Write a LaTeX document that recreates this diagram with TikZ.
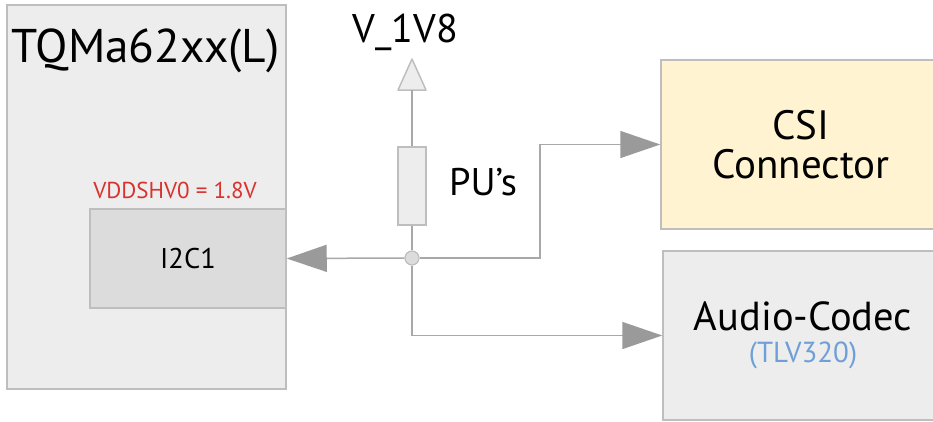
\documentclass[tikz,border=0pt]{standalone}
\usepackage{fontspec}
\setmainfont{PT Sans}
\usetikzlibrary{arrows.meta}
\definecolor{boxgray}{HTML}{EDEDED}
\definecolor{i2cgray}{HTML}{DCDCDC}
\definecolor{edgegray}{HTML}{BEBEBE}
\definecolor{linegray}{HTML}{A8A8A8}
\definecolor{tipgray}{HTML}{9A9A9A}
\definecolor{csiyellow}{HTML}{FFF3D1}
\definecolor{vddred}{HTML}{D9322E}
\definecolor{tlvblue}{HTML}{6F9FD8}
\tikzset{
  blockbox/.style={draw=edgegray, line width=1.5pt, inner sep=0pt, align=center, text=black},
  conn/.style={draw=linegray, line width=1.5pt},
  bigtip/.style={-{Triangle[length=40pt,width=27pt,fill=tipgray,color=tipgray]}},
}
\begin{document}
\begin{tikzpicture}[x=1pt,y=-1pt]
\useasboundingbox (0,0) rectangle (933,421);
% TQMa module
\node[blockbox, fill=boxgray, minimum width=279pt, minimum height=384pt] (tqm) at (146.5,197) {};
\node[anchor=base, font=\fontsize{47.3}{52}\selectfont] (title) at (145.5,62) {TQMa62xx(L)};
\node[blockbox, fill=i2cgray, minimum width=196pt, minimum height=99pt, font=\fontsize{28.5}{32}\selectfont] (i2c) at (188,258.5) {I2C1};
\node[text=vddred, font=\fontsize{23}{27}\selectfont] (vdd) at (175,190) {VDDSHV0 = 1.8V};
% supply and pull-ups
\coordinate (vtop) at (412,59);
\coordinate (vbase) at (412,90);
\filldraw[fill=boxgray, draw=edgegray, line width=1.5pt, line join=round] (vtop) -- (426,90) -- (398,90) -- cycle;
\node[font=\fontsize{40}{44}\selectfont] (vlabel) at (405.5,32) {V\_1V8};
\node[blockbox, fill=boxgray, minimum width=28pt, minimum height=78pt] (res) at (412,186) {};
\node[font=\fontsize{38.5}{42}\selectfont] (pu) at (483,182) {PU’s};
\node[circle, draw=edgegray, fill=i2cgray, line width=1.2pt, minimum size=14pt, inner sep=0pt] (j) at (412,258) {};
% targets
\node[blockbox, fill=csiyellow, minimum width=280pt, minimum height=169pt, font=\fontsize{41}{39}\selectfont] (csi) at (801,144.5) {CSI\\Connector};
\node[blockbox, fill=boxgray, minimum width=280pt, minimum height=169pt, font=\fontsize{40.5}{38}\selectfont] (audio) at (803,335.5) {Audio-Codec\\[-6pt]{\fontsize{29}{30}\selectfont\color{tlvblue}(TLV320)}};
% connectors
\coordinate (b1) at (540,258);
\draw[conn] (vbase) -- (res.north);
\draw[conn] (res.south) -- (j.north);
\draw[conn, bigtip] (j.west) -- (i2c.east);
\draw[conn, bigtip] (j.east) -- (b1) |- (csi.west);
\draw[conn, bigtip] (j.south) |- (audio.west);
\end{tikzpicture}
\end{document}
